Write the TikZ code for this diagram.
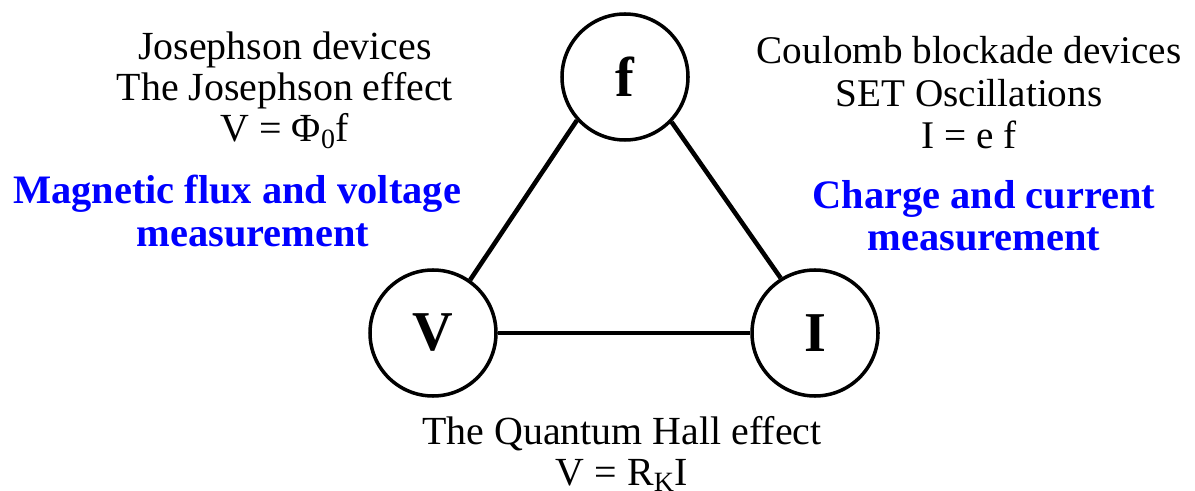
\documentclass[tikz,border=0pt]{standalone}
\usepackage{fontspec}
\setmainfont{Liberation Serif}
\usetikzlibrary{positioning}

\begin{document}
\begin{tikzpicture}[every node/.style={font=\fontsize{22.7}{23.5}\selectfont},
  quantity/.style={circle,draw,line width=2pt,minimum size=2.52cm,inner sep=0pt,font=\fontsize{32}{36}\selectfont\bfseries},
  link/.style={line width=2.6pt},
  field/.style={align=center,text=blue,font=\fontsize{23}{24}\selectfont\bfseries}]
\useasboundingbox (0,0) rectangle (23.9,-9.82);
\node[quantity] (f) at (12.50,-1.54) {f};
\node[quantity] (V) at (8.66,-6.66) {V};
\node[quantity] (I) at (16.30,-6.66) {I};
\draw[link] (V.55)--(f.222);
\draw[link] (f.316)--(I.122);
\draw[link] (V.east)--(I.west);
\node[align=center] (jos) at (5.70,-1.80) {Josephson devices\\The Josephson effect\\V = Φ\textsubscript{0}f};
\node[align=center,font=\fontsize{22.3}{24.2}\selectfont] (set) at (19.38,-1.86) {Coulomb blockade devices\\SET Oscillations\\I = e f};
\node[align=center,inner sep=0pt] (qhe) at (12.44,-9.08) {The Quantum Hall effect\\V = R\textsubscript{K}I};
\node[field] (flux) at (4.74,-4.22) {Magnetic flux and voltage\\\hspace*{0.64cm}measurement};
\node[field] (charge) at (19.68,-4.31) {Charge and current\\measurement};
\end{tikzpicture}
\end{document}
